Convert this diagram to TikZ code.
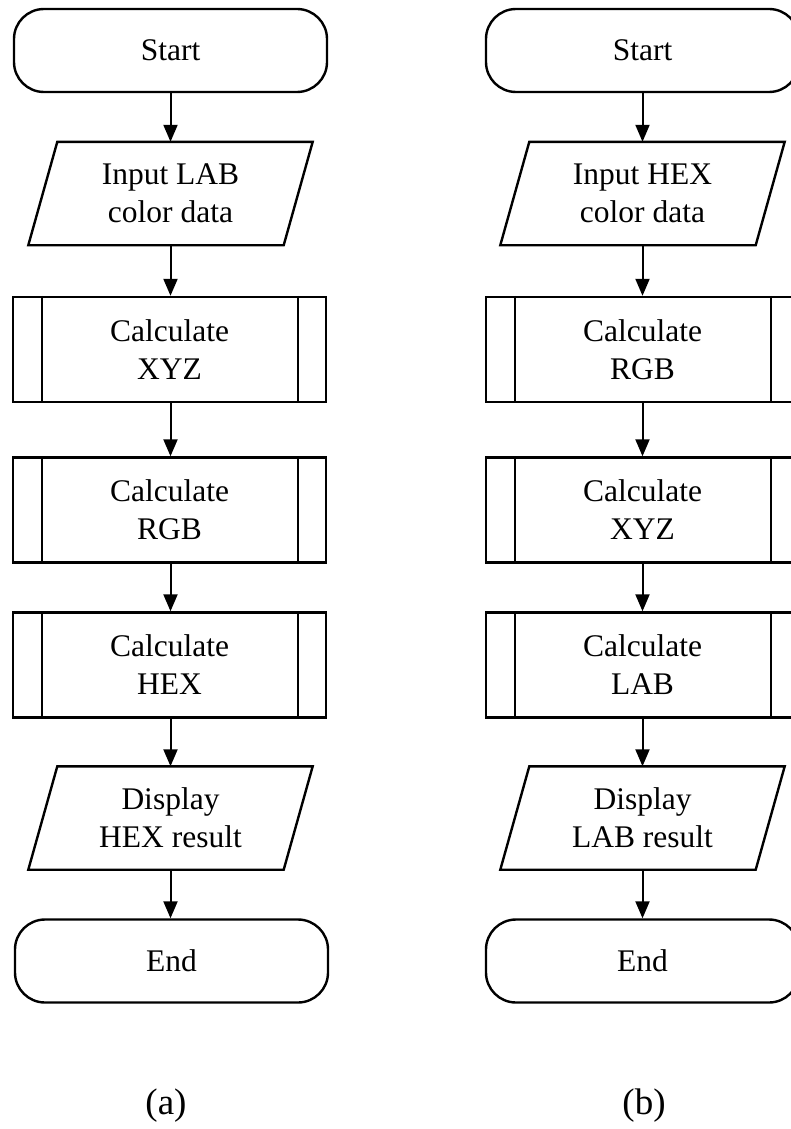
\documentclass[tikz,border=0pt]{standalone}
\usepackage{fontspec}
\setmainfont{Liberation Serif}
\usetikzlibrary{arrows.meta,calc}
\newcommand\iodraw[1]{\draw[line width=2.4pt] ($(#1.north west)+(14.5,0)$) -- ($(#1.north east)+(14.5,0)$) -- ($(#1.south east)+(-14.5,0)$) -- ($(#1.south west)+(-14.5,0)$) -- cycle;}
\newcommand\procdraw[1]{\draw[line width=2.2pt] ($(#1.north west)+(30,0)$) -- ($(#1.south west)+(30,0)$);
  \draw[line width=2.2pt] ($(#1.north east)+(-29,0)$) -- ($(#1.south east)+(-29,0)$);}
\begin{document}
\begin{tikzpicture}[x=1pt,y=-1pt,
  every node/.style={font=\fontsize{31.5}{38}\selectfont, align=center, inner sep=0pt},
  term/.style={draw, line width=2.4pt, rounded corners=30pt, minimum width=313pt, minimum height=83pt},
  proc/.style={draw, line width=2.4pt, minimum width=313pt, minimum height=105pt},
  io/.style={minimum width=255pt, minimum height=103pt},
  flow/.style={line width=2pt, -{Triangle[length=17pt,width=14pt]}},
  caplabel/.style={font=\fontsize{37}{40}\selectfont}]
\useasboundingbox (0,0) rectangle (791,1129);
\clip (0,0) rectangle (791,1129);
% column (a)
\node[term] (a1) at (170.5,50.5) {Start};
\node[io]   (a2) at (170.5,193.5) {Input LAB\\color data};
\node[proc] (a3) at (169.5,349.5) {Calculate\\XYZ};
\node[proc] (a4) at (169.5,510) {Calculate\\RGB};
\node[proc] (a5) at (169.5,665) {Calculate\\HEX};
\node[io]   (a6) at (170.5,818) {Display\\HEX result};
\node[term] (a7) at (171.5,961) {End};
\node[caplabel] (la) at (166,1106) {(a)};
% column (b)
\node[term] (b1) at (642.5,50.5) {Start};
\node[io]   (b2) at (642.5,193.5) {Input HEX\\color data};
\node[proc] (b3) at (642.5,349.5) {Calculate\\RGB};
\node[proc] (b4) at (642.5,510) {Calculate\\XYZ};
\node[proc] (b5) at (642.5,665) {Calculate\\LAB};
\node[io]   (b6) at (642.5,818) {Display\\LAB result};
\node[term] (b7) at (642.5,961) {End};
\node[caplabel] (lb) at (644,1106) {(b)};
\foreach \c in {a,b}{
  \iodraw{\c2}
  \iodraw{\c6}
  \procdraw{\c3}
  \procdraw{\c4}
  \procdraw{\c5}
}
\foreach \c in {a,b}{
  \draw[flow] (\c1.south) -- (\c1.south |- \c2.north);
  \draw[flow] (\c1.south |- \c2.south) -- (\c1.south |- \c3.north);
  \draw[flow] (\c1.south |- \c3.south) -- (\c1.south |- \c4.north);
  \draw[flow] (\c1.south |- \c4.south) -- (\c1.south |- \c5.north);
  \draw[flow] (\c1.south |- \c5.south) -- (\c1.south |- \c6.north);
  \draw[flow] (\c1.south |- \c6.south) -- (\c1.south |- \c7.north);
}
\end{tikzpicture}
\end{document}
